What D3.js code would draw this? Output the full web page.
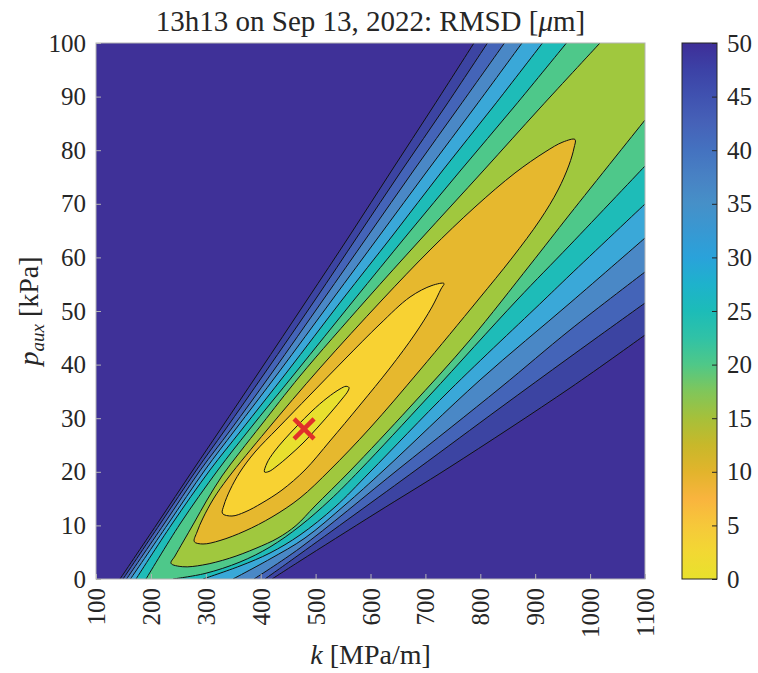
<!DOCTYPE html>
<html>
<head>
<meta charset="utf-8">
<script src="https://cdn.jsdelivr.net/npm/d3@7"></script>
<style>
  body { margin: 0; background: #fff; }
  text { font-family: "Liberation Serif", "DejaVu Serif", serif; fill: #262626; }
</style>
</head>
<body>
<div id="chart"></div>
<script>
// ---- data ----
var kTicks = [100, 200, 300, 400, 500, 600, 700, 800, 900, 1000, 1100];
var pTicks = [0, 10, 20, 30, 40, 50, 60, 70, 80, 90, 100];
var cbarTicks = [0, 5, 10, 15, 20, 25, 30, 35, 40, 45, 50];

// fill colour of each band (value >= level)
var levels      = [0, 5, 10, 15, 20, 25, 30, 35, 40, 45, 50];
var levelColors = ["#e8e02e", "#f8d232", "#e6b82e", "#a0c83e", "#4ec88a", "#1ebcb8",
                   "#3aa8d8", "#4a88c6", "#4464b8", "#3c44a2", "#3f3198"];

// continuous colour bar
var cbarValues = [0, 2.5, 5, 7.5, 10, 12.5, 15, 17.5, 20, 22.5, 25, 27.5, 30, 32.5, 35, 37.5, 40, 42.5, 45, 47.5, 50];
var cbarColors = ["#e8e12c", "#f2d833", "#f6c83a", "#f9b43e", "#e2b42c", "#c8b82a", "#a6c03a", "#80c65a",
                  "#4fc888", "#30c2a6", "#1cbcb8", "#1eb2cc", "#2aa2da", "#3898d2", "#4690c8", "#4882c4",
                  "#4472c0", "#4662b8", "#4052b0", "#3c42a6", "#3e2e98"];

// best fit marker
var bestK = [479];
var bestP = [28];

// closed contours (k [MPa/m], p [kPa])
var c5 = [[406.9, 19.96], [411.5, 21.64], [424.2, 23.69], [442.4, 25.93], [466.1, 28.54], [493.4, 31.34],
          [520.8, 33.77], [544.4, 35.45], [555.4, 35.95], [560.8, 35.73], [559.0, 35.07], [548.1, 33.58],
          [529.9, 31.34], [504.4, 28.36], [477.1, 25.37], [451.5, 22.95], [429.7, 21.08], [415.1, 20.06]];
var c10 = [[330.4, 12.22], [333.2, 13.81], [344.1, 16.6], [362.3, 19.96], [389.6, 23.69], [431.5, 28.17],
           [489.8, 34.33], [553.6, 41.04], [617.3, 47.57], [672.0, 52.61], [712.0, 54.76], [733.9, 55.13],
           [728.4, 54.10], [712.0, 50.75], [681.1, 45.71], [635.5, 39.37], [580.9, 32.46], [526.2, 25.75],
           [480.7, 20.34], [438.8, 16.6], [402.4, 14.18], [371.4, 12.5], [347.7, 11.75]];
var c15 = [[279.1, 6.96], [284.0, 8.77], [294.9, 11.38], [314.9, 15.11], [340.4, 18.84], [411.5, 27.8],
           [508.0, 39.37], [621.0, 52.05], [708.4, 61.38], [790.3, 69.40], [863.2, 75.75], [917.9, 79.66],
           [950.6, 81.53], [972.5, 82.0], [970.7, 80.41], [961.6, 77.24], [941.5, 72.57], [908.7, 66.98],
           [857.7, 59.89], [795.8, 52.05], [690.2, 38.99], [599.1, 28.17], [526.2, 20.34], [471.6, 15.11],
           [420.6, 11.57], [371.4, 8.96], [325.9, 7.18], [294.9, 6.53]];

// open contours: from the top edge / bottom edge round to the right edge
var c20 = [[1018.0, 100], [908.7, 87.87], [806.7, 76.31], [690.2, 63.25], [591.8, 52.05], [471.6, 37.87],
           [402.4, 28.92], [362.3, 23.69], [329.5, 19.22], [302.2, 14.74], [278.5, 10.45], [258.5, 6.90],
           [243.9, 4.29], [236.6, 2.93], [257.9, 2.29], [294.4, 2.61], [342.8, 3.86], [391.4, 5.73],
           [431.5, 7.65], [464.3, 9.98], [498.9, 13.62], [562.7, 20.15], [672.0, 32.09], [781.2, 44.59],
           [890.5, 58.58], [963.4, 68.10], [1100, 85.63]];
var c25L = [[191.1, 0], [253.0, 10.26], [322.2, 20.34], [378.7, 27.8], [464.3, 38.62], [569.9, 52.05],
            [666.5, 64.18], [764.8, 76.31], [861.4, 88.06], [957.0, 100]];
var c25R = [[1100, 77.05], [963.4, 62.31], [866.9, 52.05], [708.4, 34.33], [580.9, 20.34], [526.2, 14.74],
            [471.6, 9.89], [416.9, 5.97], [362.3, 3.17], [298.5, 1.03], [240.3, 0]];
var c30L = [[172.9, 0], [238.4, 10.26], [307.7, 20.34], [365.0, 27.8], [447.9, 38.62], [548.1, 52.05],
            [641.0, 64.18], [732.1, 76.31], [823.1, 88.06], [913.3, 100]];
var c30R = [[1100, 69.96], [963.4, 56.72], [916.0, 52.05], [744.8, 35.26], [599.1, 19.96], [535.3, 13.43],
            [471.6, 8.21], [416.9, 4.85], [362.3, 2.43], [294.9, 0]];
var c35L = [[162.8, 0], [231.1, 10.26], [298.5, 20.34], [353.2, 27.8], [433.3, 38.62], [529.9, 52.05],
            [617.3, 64.18], [704.7, 76.31], [790.3, 88.06], [876.0, 100]];
var c35R = [[1100, 63.62], [963.4, 51.49], [799.5, 37.13], [624.6, 20.34], [553.6, 13.81], [480.7, 7.65],
            [416.9, 3.73], [349.5, 0]];
var c40L = [[155.6, 0], [223.9, 10.26], [290.3, 20.34], [345.0, 27.8], [421.5, 38.62], [513.5, 52.05],
            [596.4, 64.18], [679.2, 76.31], [761.2, 88.06], [844.1, 100]];
var c40R = [[1100, 57.28], [963.4, 46.46], [835.9, 35.63], [653.7, 20.71], [471.6, 5.78], [387.8, 0]];
var c45L = [[149.2, 0], [216.6, 10.26], [283.1, 20.34], [335.0, 27.8], [408.7, 38.62], [498.9, 52.05],
            [578.1, 64.18], [657.4, 76.31], [735.7, 88.06], [813.1, 100]];
var c45R = [[1100, 51.49], [963.4, 41.42], [835.9, 31.9], [682.9, 20.34], [471.6, 4.66], [407.8, 0]];
var c50L = [[143.7, 0], [211.1, 10.26], [276.7, 20.34], [325.9, 27.8], [396.9, 38.62], [484.3, 52.05],
            [562.7, 64.18], [639.2, 76.31], [713.8, 88.06], [788.5, 100]];
var c50R = [[1100, 45.52], [963.4, 35.63], [744.8, 20.9], [610.0, 12.31], [471.6, 3.36], [420.6, 0]];

var openContours = [
    {level: 50, segs: [c50L, c50R]},
    {level: 45, segs: [c45L, c45R]},
    {level: 40, segs: [c40L, c40R]},
    {level: 35, segs: [c35L, c35R]},
    {level: 30, segs: [c30L, c30R]},
    {level: 25, segs: [c25L, c25R]},
    {level: 20, segs: [c20]}
];
var closedContours = [
    {level: 15, pts: c15},
    {level: 10, pts: c10},
    {level: 5, pts: c5}
];

// ---- drawing ----
var width = 758, height = 673;
var margin = {left: 96, right: 113, top: 43, bottom: 94};
var plotW = width - margin.left - margin.right;
var plotH = height - margin.top - margin.bottom;

var svg = d3.select("#chart").append("svg")
    .attr("width", width)
    .attr("height", height);

var x = d3.scaleLinear().domain([100, 1100]).range([margin.left, margin.left + plotW]);
var y = d3.scaleLinear().domain([0, 100]).range([margin.top + plotH, margin.top]);

var colorOf = function(level) {
    return levelColors[levels.indexOf(level)];
};
// band inside contour "level" takes the colour of the level below it
var innerColor = function(level) {
    return levelColors[levels.indexOf(level) - 1];
};

svg.append("clipPath").attr("id", "plotClip")
    .append("rect")
    .attr("x", x(100)).attr("y", y(100))
    .attr("width", x(1100) - x(100)).attr("height", y(0) - y(100));

var plot = svg.append("g").attr("clip-path", "url(#plotClip)");

plot.append("rect")
    .attr("x", x(100)).attr("y", y(100))
    .attr("width", x(1100) - x(100)).attr("height", y(0) - y(100))
    .attr("fill", colorOf(50));

var line = d3.line()
    .x(function(d) { return x(d[0]); })
    .y(function(d) { return y(d[1]); })
    .curve(d3.curveCatmullRom.alpha(0.5));
var closedLine = d3.line()
    .x(function(d) { return x(d[0]); })
    .y(function(d) { return y(d[1]); })
    .curve(d3.curveCatmullRomClosed.alpha(0.5));

var corner = "L" + x(1100) + "," + y(100);

openContours.forEach(function(c) {
    var d = line(c.segs[0]) + corner;
    if (c.segs[1]) d += line(c.segs[1]).replace(/^M/, "L");
    d += "Z";
    plot.append("path")
        .attr("d", d)
        .attr("fill", innerColor(c.level))
        .attr("stroke", "none");
});
closedContours.forEach(function(c) {
    plot.append("path")
        .attr("d", closedLine(c.pts))
        .attr("fill", innerColor(c.level))
        .attr("stroke", "none");
});

// contour lines
openContours.forEach(function(c) {
    c.segs.forEach(function(s) {
        plot.append("path")
            .attr("d", line(s))
            .attr("fill", "none")
            .attr("stroke", "#111")
            .attr("stroke-width", 1);
    });
});
closedContours.forEach(function(c) {
    plot.append("path")
        .attr("d", closedLine(c.pts))
        .attr("fill", "none")
        .attr("stroke", "#111")
        .attr("stroke-width", 1);
});

// best-fit marker
var ms = 10;
plot.selectAll("path.best")
    .data(bestK.map(function(k, i) { return [k, bestP[i]]; }))
    .enter().append("path")
    .attr("class", "best")
    .attr("d", function(d) {
        var cx = x(d[0]), cy = y(d[1]);
        return "M" + (cx - ms) + "," + (cy - ms) + "L" + (cx + ms) + "," + (cy + ms) +
               "M" + (cx - ms) + "," + (cy + ms) + "L" + (cx + ms) + "," + (cy - ms);
    })
    .attr("stroke", "#e0302a")
    .attr("stroke-width", 4.5)
    .attr("fill", "none");

// axes box
var axisColor = "#b4b4b4";
svg.append("rect")
    .attr("x", x(100)).attr("y", y(100))
    .attr("width", x(1100) - x(100)).attr("height", y(0) - y(100))
    .attr("fill", "none")
    .attr("stroke", axisColor)
    .attr("stroke-width", 1);

var tickFont = "25px";

var xAxis = svg.append("g")
    .attr("transform", "translate(0," + y(0) + ")")
    .call(d3.axisBottom(x).tickValues(kTicks).tickSize(-5).tickFormat(d3.format("d")));
xAxis.select(".domain").remove();
xAxis.selectAll("line").attr("stroke", axisColor);
xAxis.selectAll("text")
    .attr("transform", "rotate(-90)")
    .attr("x", -9)
    .attr("y", 0)
    .attr("dy", "0.34em")
    .style("text-anchor", "end")
    .style("font-size", tickFont)
    .style("font-family", "Liberation Serif")
    .attr("fill", "#262626");

var yAxis = svg.append("g")
    .attr("transform", "translate(" + x(100) + ",0)")
    .call(d3.axisLeft(y).tickValues(pTicks).tickSize(-5).tickPadding(10));
yAxis.select(".domain").remove();
yAxis.selectAll("line").attr("stroke", axisColor);
yAxis.selectAll("text")
    .style("font-size", tickFont)
    .style("font-family", "Liberation Serif")
    .attr("fill", "#262626");

// colour bar
var cbX = 682, cbW = 35;
var cy = d3.scaleLinear().domain([0, 50]).range([y(0), y(100)]);
var grad = svg.append("defs").append("linearGradient")
    .attr("id", "cbarGrad")
    .attr("x1", 0).attr("y1", 1).attr("x2", 0).attr("y2", 0);
grad.selectAll("stop")
    .data(cbarValues)
    .enter().append("stop")
    .attr("offset", function(d) { return d / 50; })
    .attr("stop-color", function(d, i) { return cbarColors[i]; });

svg.append("rect")
    .attr("x", cbX).attr("y", cy(50))
    .attr("width", cbW).attr("height", cy(0) - cy(50))
    .attr("fill", "url(#cbarGrad)")
    .attr("stroke", "#262626")
    .attr("stroke-width", 1);

var cAxis = svg.append("g")
    .attr("transform", "translate(" + (cbX + cbW) + ",0)")
    .call(d3.axisRight(cy).tickValues(cbarTicks).tickSize(-5).tickPadding(10));
cAxis.select(".domain").remove();
cAxis.selectAll("line").attr("stroke", "#262626");
cAxis.selectAll("text")
    .style("font-size", tickFont)
    .style("font-family", "Liberation Serif")
    .attr("fill", "#262626");

// title and labels
var labelFont = "28px";

var title = svg.append("text")
    .attr("x", (x(100) + x(1100)) / 2)
    .attr("y", 31)
    .attr("text-anchor", "middle")
    .style("font-size", "29px");
title.append("tspan").text("13h13 on Sep 13, 2022: RMSD [");
title.append("tspan").style("font-style", "italic").text("μ");
title.append("tspan").text("m]");

var xl = svg.append("text")
    .attr("x", (x(100) + x(1100)) / 2)
    .attr("y", 664)
    .attr("text-anchor", "middle")
    .style("font-size", labelFont);
xl.append("tspan").style("font-style", "italic").text("k");
xl.append("tspan").text(" [MPa/m]");

var yl = svg.append("text")
    .attr("transform", "translate(38," + ((y(0) + y(100)) / 2) + ") rotate(-90)")
    .attr("text-anchor", "middle")
    .style("font-size", labelFont);
yl.append("tspan").style("font-style", "italic").text("p");
yl.append("tspan").style("font-style", "italic").style("font-size", "19px").attr("dy", 6).text("aux");
yl.append("tspan").attr("dy", -6).text(" [kPa]");
</script>
</body>
</html>
